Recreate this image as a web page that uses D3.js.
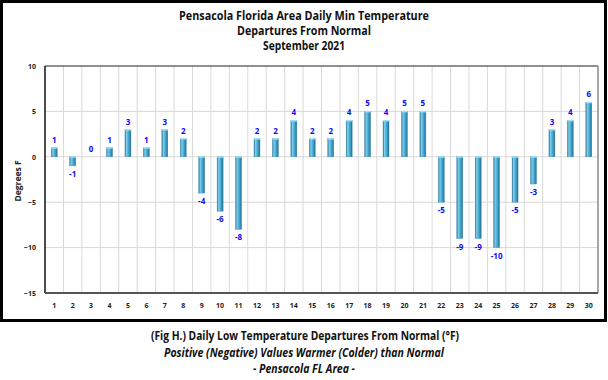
<!DOCTYPE html>
<html><head><meta charset="utf-8">
<script src="https://cdn.jsdelivr.net/npm/d3@7"></script>
<style>body{margin:0;background:#fff}svg{display:block}</style>
</head><body>
<script>
const days = ["1","2","3","4","5","6","7","8","9","10","11","12","13","14","15","16","17","18","19","20","21","22","23","24","25","26","27","28","29","30"];
const departures = [1,-1,0,1,3,1,3,2,-4,-6,-8,2,2,4,2,2,4,5,4,5,5,-5,-9,-9,-10,-5,-3,3,4,6];
const yTicks = [-15,-10,-5,0,5,10];
const titleLines = ["Pensacola Florida Area Daily Min Temperature","Departures From Normal","September 2021"];
const yAxisTitle = "Degrees F";
const captionLines = ["(Fig H.) Daily Low Temperature Departures From Normal (°F)","Positive (Negative) Values Warmer (Colder) than Normal","- Pensacola FL Area -"];

const W = 608, H = 380;
const svg = d3.select("body").append("svg").attr("width", W).attr("height", H);
const font = "'Open Sans', 'DejaVu Sans', sans-serif";

const defs = svg.append("defs");
const g1 = defs.append("linearGradient").attr("id","barg").attr("x1","0").attr("x2","1").attr("y1","0").attr("y2","0");
[["0%","#2b6f8e"],["25%","#7fcdec"],["55%","#4aaed6"],["85%","#2f86ad"],["100%","#24607c"]].forEach(s=>g1.append("stop").attr("offset",s[0]).attr("stop-color",s[1]));

// outer frame
svg.append("rect").attr("x",1.5).attr("y",1.5).attr("width",604).attr("height",319)
  .attr("fill","none").attr("stroke","#000").attr("stroke-width",3);

const m = {l:45, r:598, t:66, b:293};
const x = d3.scaleBand().domain(days).range([m.l, m.r]).padding(0);
const y = d3.scaleLinear().domain([-15,10]).range([m.b, m.t]);

// grid
svg.append("g").selectAll("line.h").data(yTicks.filter(d=>d!==-15 && d!==10)).join("line")
  .attr("x1",m.l).attr("x2",m.r).attr("y1",d=>y(d)).attr("y2",d=>y(d))
  .attr("stroke","#d9d9d9").attr("stroke-width",1);
svg.append("g").selectAll("line.v").data(days.slice(1)).join("line")
  .attr("x1",d=>x(d)).attr("x2",d=>x(d)).attr("y1",m.t).attr("y2",m.b)
  .attr("stroke","#d9d9d9").attr("stroke-width",1);

// plot border
svg.append("line").attr("x1",m.l).attr("x2",m.r).attr("y1",m.t).attr("y2",m.t).attr("stroke","#222").attr("stroke-width",1.2);
svg.append("line").attr("x1",m.r).attr("x2",m.r).attr("y1",m.t).attr("y2",m.b).attr("stroke","#8a8a8a").attr("stroke-width",1.5);

// bars
const bw = 6;
const rows = departures.map((v,i)=>({d:days[i],v}));
svg.append("g").selectAll("rect").data(rows).join("rect")
  .attr("x",d=>x(d.d)+x.bandwidth()/2-bw/2)
  .attr("y",d=>Math.min(y(d.v),y(0)))
  .attr("width",bw)
  .attr("height",d=>Math.abs(y(d.v)-y(0)))
  .attr("fill","url(#barg)")
  .attr("stroke","#3d8fb3").attr("stroke-width",0.4);
svg.append("g").selectAll("rect").data(rows.filter(d=>d.v!==0)).join("rect")
  .attr("x",d=>x(d.d)+x.bandwidth()/2-bw/2)
  .attr("y",d=>(d.v>0?y(d.v):y(0))-0.5)
  .attr("width",bw).attr("height",1.5)
  .attr("fill","#9fe0f7");

// axes lines
svg.append("line").attr("x1",m.l).attr("x2",m.l).attr("y1",m.t).attr("y2",m.b).attr("stroke","#111").attr("stroke-width",1.5);
svg.append("line").attr("x1",m.l).attr("x2",m.r).attr("y1",m.b).attr("y2",m.b).attr("stroke","#555").attr("stroke-width",1.8);

const yAxis = d3.axisLeft(y).tickValues(yTicks).tickSize(0).tickPadding(9);
const ya = svg.append("g").attr("transform",`translate(${m.l},0)`).call(yAxis);
ya.select(".domain").remove();
ya.selectAll("text").attr("font-family",font).attr("font-weight","bold").attr("font-size",7).attr("fill","#222");

const xAxis = d3.axisBottom(x).tickSize(0).tickPadding(10);
const xa = svg.append("g").attr("transform",`translate(0,${m.b})`).call(xAxis);
xa.select(".domain").remove();
xa.selectAll("text").attr("font-family",font).attr("font-weight","bold").attr("font-size",7).attr("fill","#222");

// value labels
svg.append("g").selectAll("text").data(rows).join("text")
  .attr("x",d=>x(d.d)+x.bandwidth()/2)
  .attr("y",d=>d.v>=0 ? y(d.v)-5 : y(d.v)+11)
  .attr("text-anchor","middle")
  .attr("font-family",font).attr("font-weight","bold").attr("font-size",8)
  .attr("fill","#0a0af5").text(d=>d.v);

svg.append("text").attr("transform","translate(21,181) rotate(-90)")
  .attr("text-anchor","middle").attr("font-family",font).attr("font-weight","bold")
  .attr("font-size",8.5).attr("fill","#222").text(yAxisTitle);

// title
const tPos = [[304,20,250],[304,35,134],[304,50,82]];
titleLines.forEach((t,i)=>{
  svg.append("text").attr("x",tPos[i][0]).attr("y",tPos[i][1]).attr("text-anchor","middle")
    .attr("font-family",font).attr("font-weight","bold").attr("font-size",11.5).attr("fill","#111")
    .attr("textLength",tPos[i][2]).attr("lengthAdjust","spacingAndGlyphs").text(t);
});

// caption
const cPos = [[305,340,308,"normal"],[304,357,280,"italic"],[304,373,102,"italic"]];
captionLines.forEach((t,i)=>{
  svg.append("text").attr("x",cPos[i][0]).attr("y",cPos[i][1]).attr("text-anchor","middle")
    .attr("font-family",font).attr("font-weight","bold").attr("font-style",cPos[i][3])
    .attr("font-size",11.5).attr("fill","#111")
    .attr("textLength",cPos[i][2]).attr("lengthAdjust","spacingAndGlyphs").text(t);
});
</script>
</body></html>
